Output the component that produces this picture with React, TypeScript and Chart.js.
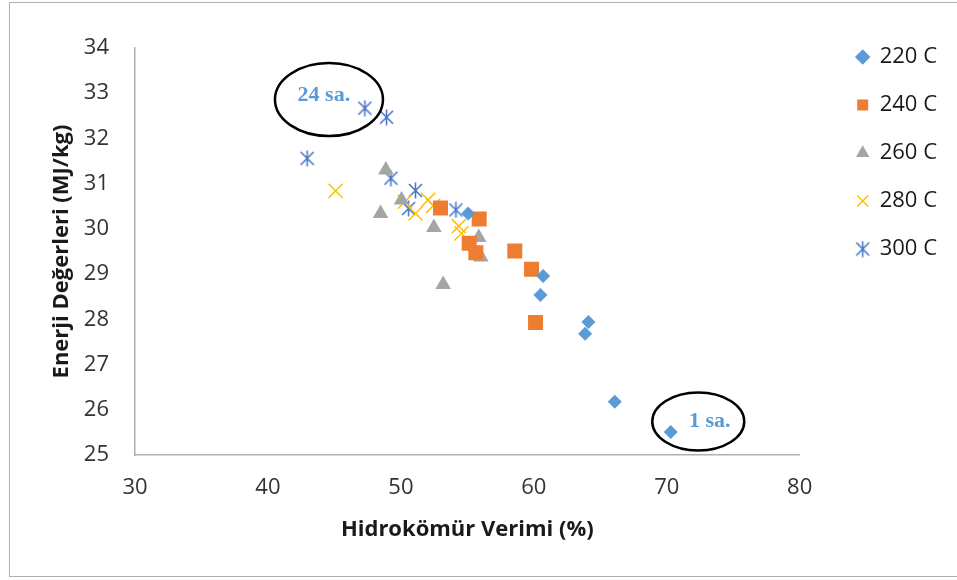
import { useEffect, useRef } from 'react';
import { Chart, registerables } from 'chart.js';

Chart.register(...registerables);

// ---- data ----
const seriesNames = ['220 C', '240 C', '260 C', '280 C', '300 C'];

const x220 = [55.06, 60.7, 60.5, 64.11, 63.86, 66.09, 70.3];
const y220 = [30.34, 28.96, 28.54, 27.94, 27.68, 26.18, 25.51];

const x240 = [52.98, 55.89, 55.14, 55.64, 58.57, 59.83, 60.13];
const y240 = [30.46, 30.22, 29.68, 29.47, 29.51, 29.11, 27.93];

const x260 = [48.87, 48.47, 50.05, 52.48, 55.86, 56.02, 53.18];
const y260 = [31.3, 30.34, 30.64, 30.03, 29.81, 29.38, 28.77];

const x280 = [45.09, 50.3, 51.1, 52.05, 52.43, 54.36, 54.56];
const y280 = [30.84, 30.6, 30.34, 30.64, 30.51, 30.06, 29.9];

const x300 = [47.29, 48.92, 42.95, 49.25, 51.1, 50.58, 54.14];
const y300 = [32.67, 32.47, 31.56, 31.12, 30.85, 30.45, 30.42];

const xMin = 30;
const xMax = 80;
const xStep = 10;
const yMin = 25;
const yMax = 34;
const yStep = 1;

const xTitle = 'Hidrokömür Verimi (%)';
const yTitle = 'Enerji Değerleri (MJ/kg)';

// annotation labels (data coordinates)
const noteTexts = ['24 sa.', '1 sa.'];
const noteTextX = [44.21, 73.23];
const noteTextY = [32.96, 25.74];
const noteEllX = [44.59, 72.37];
const noteEllY = [32.86, 25.74];

const toPts = (xs: number[], ys: number[]) => xs.map((x, i) => ({ x, y: ys[i] }));

export default function App() {
  const ref = useRef<HTMLCanvasElement>(null);

  useEffect(() => {
    const star = document.createElement('canvas');
    star.width = 17;
    star.height = 17;
    const sc = star.getContext('2d')!;
    sc.strokeStyle = '#4472C4';
    sc.lineWidth = 1.5;
    sc.beginPath();
    sc.moveTo(8.5, 0.5);
    sc.lineTo(8.5, 16.5);
    sc.moveTo(2, 2);
    sc.lineTo(15, 15);
    sc.moveTo(15, 2);
    sc.lineTo(2, 15);
    sc.stroke();

    const bgPlugin = {
      id: 'frame',
      beforeDraw(chart: any) {
        const c = chart.ctx;
        c.save();
        c.fillStyle = '#ffffff';
        c.fillRect(0, 0, chart.width, chart.height);
        c.strokeStyle = '#b0b0b0';
        c.lineWidth = 1;
        c.strokeRect(9.5, 2.5, chart.width + 10, 574);
        c.restore();
      },
    };

    const notePlugin = {
      id: 'notes',
      afterDatasetsDraw(chart: any) {
        const c = chart.ctx;
        const xs = chart.scales.x;
        const ys = chart.scales.y;
        const radii = [
          [54, 36.5],
          [46, 29],
        ];
        c.save();
        noteTexts.forEach((t, i) => {
          const ex = xs.getPixelForValue(noteEllX[i]);
          const ey = ys.getPixelForValue(noteEllY[i]);
          c.beginPath();
          c.ellipse(ex, ey, radii[i][0], radii[i][1], 0, 0, Math.PI * 2);
          c.strokeStyle = '#000';
          c.lineWidth = 2.5;
          c.stroke();
          c.fillStyle = '#5B9BD5';
          c.font = 'bold 22px "Liberation Serif", "Times New Roman", serif';
          c.textAlign = 'center';
          c.textBaseline = 'middle';
          c.fillText(t, xs.getPixelForValue(noteTextX[i]), ys.getPixelForValue(noteTextY[i]));
        });
        c.restore();
      },
    };

    Chart.defaults.font.family = '"Open Sans", sans-serif';

    const chart = new Chart(ref.current!, {
      type: 'scatter',
      data: {
        datasets: [
          {
            label: seriesNames[0],
            data: toPts(x220, y220),
            pointStyle: 'rectRot',
            pointRadius: 7,
            pointHoverRadius: 7,
            backgroundColor: '#5B9BD5',
            borderColor: '#5B9BD5',
            borderWidth: 0,
          },
          {
            label: seriesNames[1],
            data: toPts(x240, y240),
            pointStyle: 'rect',
            pointRadius: 10.6,
            pointHoverRadius: 10.6,
            backgroundColor: '#ED7D31',
            borderColor: '#ED7D31',
            borderWidth: 0,
          },
          {
            label: seriesNames[2],
            data: toPts(x260, y260),
            pointStyle: 'triangle',
            pointRadius: 9,
            pointHoverRadius: 9,
            backgroundColor: '#A5A5A5',
            borderColor: '#A5A5A5',
            borderWidth: 0,
          },
          {
            label: seriesNames[3],
            data: toPts(x280, y280),
            pointStyle: 'crossRot',
            pointRadius: 10,
            pointHoverRadius: 10,
            backgroundColor: '#FFC000',
            borderColor: '#FFC000',
            borderWidth: 1.5,
          },
          {
            label: seriesNames[4],
            data: toPts(x300, y300),
            pointStyle: star as any,
            pointRadius: 8,
            backgroundColor: '#4472C4',
            borderColor: '#4472C4',
            borderWidth: 1.5,
          },
        ],
      },
      options: {
        responsive: false,
        animation: false,
        devicePixelRatio: 1,
        layout: { padding: { left: 0, right: 10, top: 0, bottom: 0 } },
        scales: {
          x: {
            type: 'linear',
            min: xMin,
            max: xMax,
            ticks: { stepSize: xStep, padding: 20, color: '#333', font: { size: 22 } },
            grid: { display: false, drawTicks: false },
            border: { display: true, color: '#b0b0b0', width: 1.5 },
            title: {
              display: true,
              text: xTitle,
              color: '#1a1a1a',
              font: { size: 22, weight: 'bold' },
              padding: { top: 0, bottom: 37 },
            },
            afterFit: (s: any) => {
              s.height = 125;
            },
          },
          y: {
            type: 'linear',
            min: yMin,
            max: yMax,
            ticks: { stepSize: yStep, padding: 26, color: '#333', font: { size: 22 } },
            grid: { display: false, drawTicks: false },
            border: { display: true, color: '#b0b0b0', width: 1.5 },
            title: {
              display: true,
              text: yTitle,
              color: '#1a1a1a',
              font: { size: 22, weight: 'bold' },
              padding: { top: 49, bottom: 0 },
            },
            afterFit: (s: any) => {
              s.width = 135;
            },
          },
          gap: {
            type: 'linear',
            position: 'right',
            display: true,
            ticks: { display: false },
            grid: { display: false },
            border: { display: false },
            afterFit: (s: any) => {
              s.width = 31;
            },
          },
        },
        plugins: {
          title: {
            display: true,
            text: '',
            font: { size: 10 },
            padding: { top: 36, bottom: 0 },
          },
          tooltip: { enabled: false },
          legend: {
            display: true,
            position: 'right',
            align: 'start',
            title: { display: true, text: '', font: { size: 10 }, padding: { top: 4, bottom: 4 } },
            labels: {
              usePointStyle: true,
              boxWidth: 12,
              boxHeight: 11,
              padding: 26,
              color: '#1a1a1a',
              font: { size: 22 },
            },
          },
        },
      },
      plugins: [bgPlugin, notePlugin],
    } as any);

    return () => chart.destroy();
  }, []);

  return (
    <div style={{ position: 'absolute', left: 0, top: 0, width: 957, height: 580 }}>
      <canvas ref={ref} width={957} height={580} />
    </div>
  );
}
